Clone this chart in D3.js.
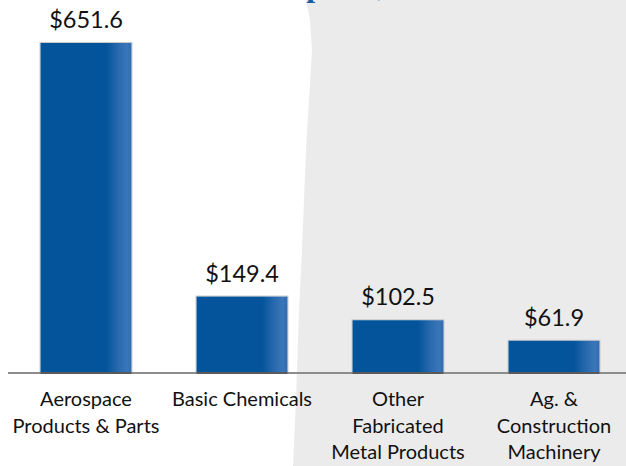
<!DOCTYPE html>
<html><head><meta charset="utf-8">
<script src="https://cdn.jsdelivr.net/npm/d3@7"></script>
<style>html,body{margin:0;padding:0;background:#fff;overflow:hidden}</style>
</head><body>
<script>
const categories = ["Aerospace Products & Parts", "Basic Chemicals", "Other Fabricated Metal Products", "Ag. & Construction Machinery"];
const categoryLines = [["Aerospace", "Products & Parts"], ["Basic Chemicals"], ["Other", "Fabricated", "Metal Products"], ["Ag. &", "Construction", "Machinery"]];
const values = [651.6, 149.4, 102.5, 61.9];
const valueLabels = ["$651.6", "$149.4", "$102.5", "$61.9"];
const titleText = "Exports,";

const W = 626, H = 466;
const svg = d3.select("body").append("svg").attr("width", W).attr("height", H);

// gray background panel
const bgPts = [[306,0],[310,20],[312,50],[309,100],[306,150],[302,250],[299,310],[296,400],[293,466],[626,466],[626,0]];
svg.append("path").attr("d", d3.line()(bgPts) + "Z").attr("fill", "#ebebeb");

// partially visible title (only descenders show, as in the reference)
svg.append("text").attr("x", 269).attr("y", -4.5).text(titleText)
  .attr("font-family", "Liberation Serif").attr("font-weight", "bold")
  .attr("font-size", 32).attr("fill", "#1a5ea8");

const defs = svg.append("defs");
const grad = defs.append("linearGradient").attr("id", "barGrad").attr("x1", "0").attr("x2", "1").attr("y1", "0").attr("y2", "0");
[[0, "#03549a"], [0.72, "#03549a"], [0.86, "#2a6aaf"], [0.95, "#3a76b9"], [1, "#2f6cb0"]].forEach(([o, c]) =>
  grad.append("stop").attr("offset", o).attr("stop-color", c));

const baseY = 372;
const x = d3.scaleBand().domain(categories).range([8, 632]).paddingInner(0.417).paddingOuter(0.2085);
const y = d3.scaleLinear().domain([0, 651.6]).range([baseY, 43]);

// bars
const g = svg.append("g");
categories.forEach((c, i) => {
  const bx = x(c), bw = x.bandwidth(), by = y(values[i]);
  g.append("rect").attr("x", bx - 0.5).attr("y", by - 0.5).attr("width", bw + 1).attr("height", baseY - by + 0.5)
    .attr("fill", "none").attr("stroke", "#c9c9c9").attr("stroke-width", 1);
  g.append("rect").attr("x", bx).attr("y", by).attr("width", bw).attr("height", baseY - by)
    .attr("fill", "url(#barGrad)");
});

// axis line
svg.append("line").attr("x1", 8).attr("x2", 626).attr("y1", baseY + 1).attr("y2", baseY + 1)
  .attr("stroke", "#8c8c8c").attr("stroke-width", 2);
categories.forEach((c) => {
  svg.append("rect").attr("x", x(c)).attr("y", baseY).attr("width", x.bandwidth()).attr("height", 2).attr("fill", "#5a5a5a");
});

// value labels
categories.forEach((c, i) => {
  svg.append("text").attr("x", x(c) + x.bandwidth() / 2).attr("y", y(values[i]) - 15)
    .attr("text-anchor", "middle").attr("font-family", "Lato").attr("font-size", 23.5)
    .attr("fill", "#111").text(valueLabels[i]);
});

// category labels
categories.forEach((c, i) => {
  const t = svg.append("text").attr("text-anchor", "middle").attr("font-family", "Lato")
    .attr("font-size", 20).attr("fill", "#111");
  categoryLines[i].forEach((ln, j) => {
    t.append("tspan").attr("x", x(c) + x.bandwidth() / 2).attr("y", 406 + j * 26.5).text(ln);
  });
});
</script>
</body></html>
